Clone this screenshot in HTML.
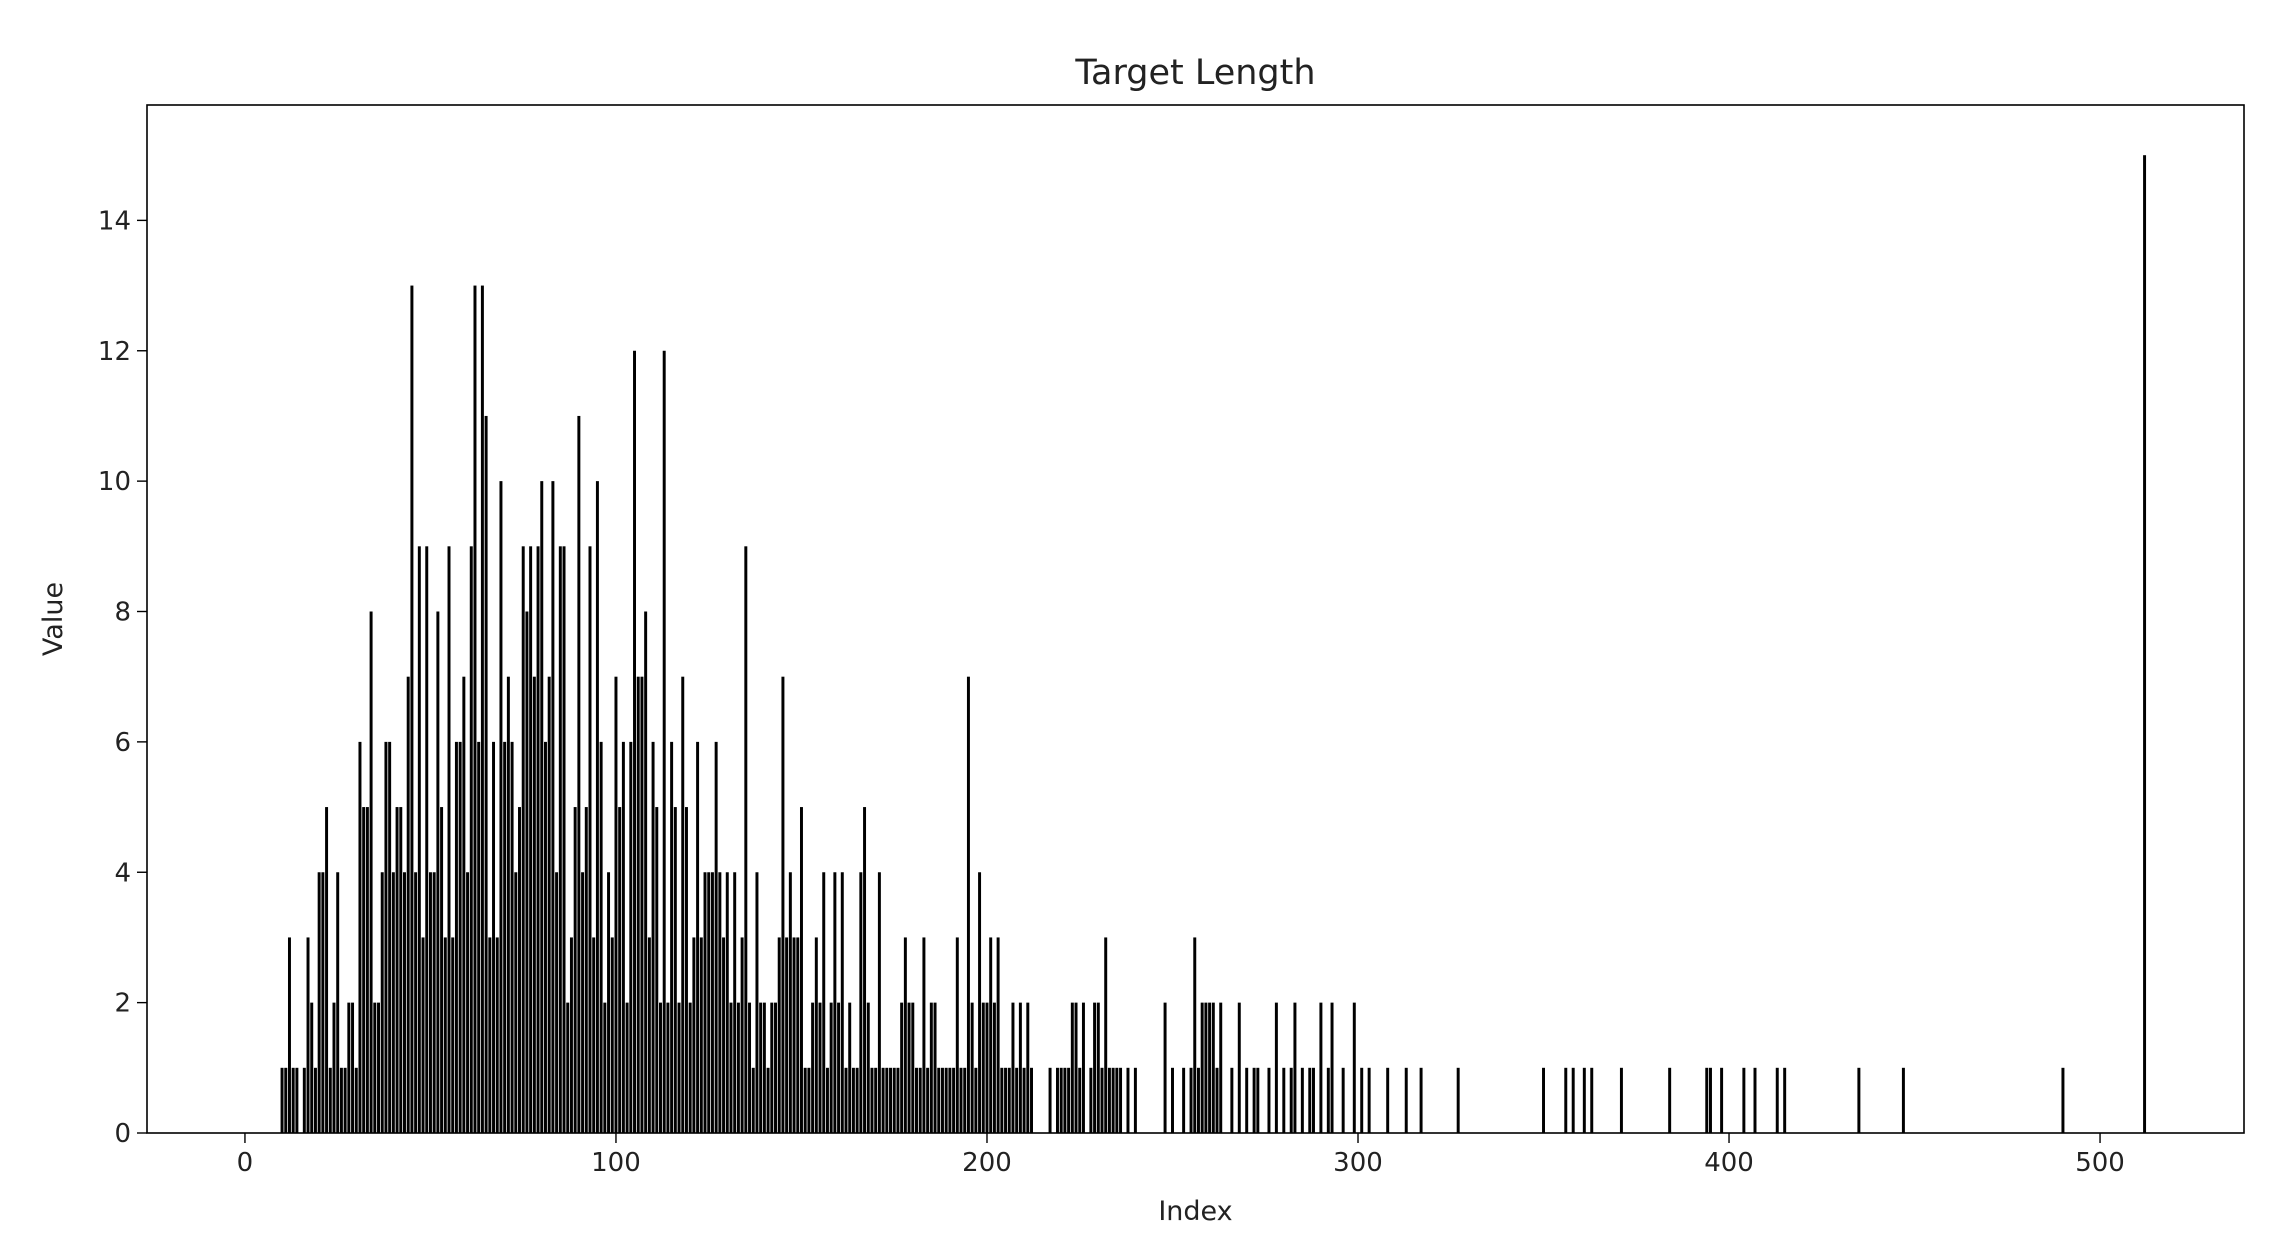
<!DOCTYPE html>
<html><head><meta charset="utf-8"><style>
body{margin:0;background:#fff;}
svg text{font-family:"DejaVu Sans","Liberation Sans",sans-serif;fill:#222;}
</style></head><body>
<svg id="chart" width="2272" height="1244" xmlns="http://www.w3.org/2000/svg">
<rect width="2272" height="1244" fill="#fff"/>
<g id="bars"></g>
<g id="axes"></g>
</svg>
<script>
const denseStart=10;
const denseValues=[
1,1,3,1,1,0,1,3,2,1,
4,4,5,1,2,4,1,1,2,2,
1,6,5,5,8,2,2,4,6,6,
4,5,5,4,7,13,4,9,3,9,
4,4,8,5,3,9,3,6,6,7,
4,9,13,6,13,11,3,6,3,10,
6,7,6,4,5,9,8,9,7,9,
10,6,7,10,4,9,9,2,3,5,
11,4,5,9,3,10,6,2,4,3,
7,5,6,2,6,12,7,7,8,3,
6,5,2,12,2,6,5,2,7,5,
2,3,6,3,4,4,4,6,4,3,
4,2,4,2,3,9,2,1,4,2,
2,1,2,2,3,7,3,4,3,3,
5,1,1,2,3,2,4,1,2,4,
2,4,1,2,1,1,4,5,2,1,
1,4,1,1,1,1,1,2,3,2,
2,1,1,3,1,2,2,1,1,1,
1,1,3,1,1,7,2,1,4,2,
2,3,2,3,1,1,1,2,1,2,
1,2,1];
const tailIndices=[
217,219,220,221,222,223,224,225,226,228,
229,230,231,232,233,234,235,236,238,240,
248,250,253,255,256,257,258,259,260,261,
262,263,266,268,270,272,273,276,278,280,
282,283,285,287,288,290,292,293,296,299,
301,303,308,313,317,327,350,356,358,361,
363,371,384,394,395,398,404,407,413,415,
435,447,490,512];
const tailValues=[
1,1,1,1,1,2,2,1,2,1,
2,2,1,3,1,1,1,1,1,1,
2,1,1,1,3,1,2,2,2,2,
1,2,1,2,1,1,1,1,2,1,
1,2,1,1,1,2,1,2,1,2,
1,1,1,1,1,1,1,1,1,1,
1,1,1,1,1,1,1,1,1,1,
1,1,1,15];
const xTicks=[0,100,200,300,400,500];
const yTicks=[0,2,4,6,8,10,12,14];
const L=147,R=2244,T=105,B=1133;
const xmin=-26.4,xmax=538.8,ymax=15.77;
const sx=v=>L+(v-xmin)/(xmax-xmin)*(R-L);
const sy=v=>B-v/ymax*(B-T);
const NS="http://www.w3.org/2000/svg";
function mk(tag,attrs,parent){const e=document.createElementNS(NS,tag);for(const k in attrs)e.setAttribute(k,attrs[k]);parent.appendChild(e);return e;}
const bars=document.getElementById('bars'),axes=document.getElementById('axes');
function drawBar(ix,v){
  if(!v)return;
  const x0=sx(ix-0.4),x1=sx(ix+0.4);
  const r=mk('rect',{x:x0,y:sy(v),width:x1-x0,height:B-sy(v),fill:'#000'},bars);
  
  
}
denseValues.forEach((v,i)=>drawBar(denseStart+i,v));
tailIndices.forEach((ix,i)=>drawBar(ix,tailValues[i]));
const frame=mk('rect',{x:L,y:T,width:R-L,height:B-T,fill:'none',stroke:'#000','stroke-width':1.6},axes);


xTicks.forEach(t=>{
  const x=sx(t);
  mk('line',{x1:x,y1:B,x2:x,y2:B+10,stroke:'#000','stroke-width':1.4},axes);
  const tx=mk('text',{x:x,y:B+38,'text-anchor':'middle','font-size':26},axes);
  tx.textContent=t;
  
  
});
yTicks.forEach(t=>{
  const y=sy(t);
  mk('line',{x1:L-10,y1:y,x2:L,y2:y,stroke:'#000','stroke-width':1.4},axes);
  const tx=mk('text',{x:L-16,y:y+9,'text-anchor':'end','font-size':26},axes);
  tx.textContent=t;
  
  
});
const title=mk('text',{x:(L+R)/2,y:84,'text-anchor':'middle','font-size':35},axes);
title.textContent='Target Length';


const xl=mk('text',{x:(L+R)/2,y:1220,'text-anchor':'middle','font-size':27},axes);
xl.textContent='Index';


const yl=mk('text',{x:62,y:(T+B)/2,'text-anchor':'middle','font-size':27,transform:'rotate(-90 62 '+((T+B)/2)+')'},axes);
yl.textContent='Value';


</script>
</body></html>
